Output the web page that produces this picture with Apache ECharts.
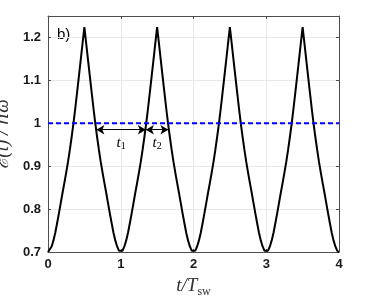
<!DOCTYPE html>
<html><head><meta charset="utf-8">
<script src="https://cdn.jsdelivr.net/npm/echarts@6/dist/echarts.min.js"></script>
<style>html,body{margin:0;padding:0;background:#fff}#c{width:374px;height:300px}</style>
</head><body><div id="c"></div>
<script>
// Sampling grid t/T_sw from 0 to 4 in steps of 0.025
const tStep = 0.025;
// Energy E(t)/hbar*omega (161 samples)
const energy = [
 0.700,0.703,0.713,0.727,0.745,0.767,0.790,0.814,0.838,0.861,0.885,0.910,0.938,0.968,1.000,1.035,1.072,1.110,1.148,1.186,
 1.224,1.186,1.148,1.110,1.072,1.035,1.000,0.968,0.938,0.910,0.885,0.861,0.838,0.814,0.790,0.767,0.745,0.727,0.713,0.703,
 0.700,0.703,0.713,0.727,0.745,0.767,0.790,0.814,0.838,0.861,0.885,0.910,0.938,0.968,1.000,1.035,1.072,1.110,1.148,1.186,
 1.224,1.186,1.148,1.110,1.072,1.035,1.000,0.968,0.938,0.910,0.885,0.861,0.838,0.814,0.790,0.767,0.745,0.727,0.713,0.703,
 0.700,0.703,0.713,0.727,0.745,0.767,0.790,0.814,0.838,0.861,0.885,0.910,0.938,0.968,1.000,1.035,1.072,1.110,1.148,1.186,
 1.224,1.186,1.148,1.110,1.072,1.035,1.000,0.968,0.938,0.910,0.885,0.861,0.838,0.814,0.790,0.767,0.745,0.727,0.713,0.703,
 0.700,0.703,0.713,0.727,0.745,0.767,0.790,0.814,0.838,0.861,0.885,0.910,0.938,0.968,1.000,1.035,1.072,1.110,1.148,1.186,
 1.224,1.186,1.148,1.110,1.072,1.035,1.000,0.968,0.938,0.910,0.885,0.861,0.838,0.814,0.790,0.767,0.745,0.727,0.713,0.703,
 0.700
];
const referenceLevel = 1;
const xTicks = [0, 1, 2, 3, 4];
const yTicks = [0.7, 0.8, 0.9, 1, 1.1, 1.2];
// arrow intervals t1, t2 (in t/T_sw) at energy level
const arrowLevel = 0.985;
const t1Range = [0.665, 1.345];
const t2Range = [1.345, 1.655];

const curve = energy.map((v, i) => [i * tStep, v]);
const serif = '"Liberation Serif","DejaVu Serif",serif';
const sans = '"Liberation Sans",Arial,sans-serif';

function arrowLine(range, sub) {
  return [{coord: [range[0], arrowLevel], label: {show: true, position: 'insideMiddleBottom', distance: 4,
    formatter: '{t|t}{s|' + sub + '}',
    rich: {t: {fontFamily: serif, fontStyle: 'italic', fontSize: 15, color: '#000'},
           s: {fontFamily: serif, fontSize: 10, color: '#000', verticalAlign: 'bottom', padding: [8, 0, 0, 0]}}}},
    {coord: [range[1], arrowLevel]}];
}

const chart = echarts.init(document.getElementById('c'), null, {renderer: 'canvas'});
const axisLineStyle = {color: '#4d4d4d', width: 1};
chart.setOption({
  animation: false,
  grid: {left: 48, right: 35, top: 16, bottom: 48, containLabel: false, outerBoundsMode: 'none'},
  xAxis: [{
    type: 'value', min: xTicks[0], max: xTicks[xTicks.length - 1], interval: 1,
    axisLine: {show: true, onZero: false, lineStyle: axisLineStyle},
    axisTick: {show: true, inside: true, length: 3, lineStyle: axisLineStyle},
    axisLabel: {color: '#1a1a1a', fontFamily: sans, fontWeight: 'bold', fontSize: 13, margin: 6},
    splitLine: {show: true, lineStyle: {color: '#e8e8e8', width: 1}},
    name: '{i|t/T}{s|sw}', nameLocation: 'middle', nameGap: 22,
    nameTextStyle: {rich: {i: {fontFamily: serif, fontStyle: 'italic', fontSize: 19, color: '#333'},
      s: {fontFamily: serif, fontSize: 12, color: '#333', verticalAlign: 'bottom', padding: [12, 0, 0, 0]}}}
  }, {
    type: 'value', position: 'top', min: 0, max: 4, interval: 1,
    axisLine: {show: true, onZero: false, lineStyle: axisLineStyle},
    axisTick: {show: true, inside: true, length: 3, lineStyle: axisLineStyle},
    axisLabel: {show: false}, splitLine: {show: false}
  }],
  yAxis: [{
    type: 'value', min: 0.7, max: 1.25, interval: 0.1,
    axisLine: {show: true, onZero: false, lineStyle: axisLineStyle},
    axisTick: {show: true, inside: true, length: 3, lineStyle: axisLineStyle},
    axisLabel: {color: '#1a1a1a', fontFamily: sans, fontWeight: 'bold', fontSize: 13, margin: 7, showMaxLabel: false,
      formatter: v => (v > 1.21 ? '' : String(parseFloat(v.toFixed(2))))},
    splitLine: {show: true, showMaxLine: false, lineStyle: {color: '#e8e8e8', width: 1}},
    name: 'ℰ(t) / ℏω', nameLocation: 'middle', nameGap: 26, nameRotate: 90,
    nameTextStyle: {fontFamily: serif, fontStyle: 'italic', fontSize: 19, color: '#333'}
  }, {
    type: 'value', position: 'right', min: 0.7, max: 1.25, interval: 0.1,
    axisLine: {show: true, onZero: false, lineStyle: axisLineStyle},
    axisTick: {show: true, inside: true, length: 3, lineStyle: axisLineStyle},
    axisLabel: {show: false}, splitLine: {show: false}
  }],
  series: [{
    type: 'line', data: curve, showSymbol: false, smooth: false,
    lineStyle: {color: '#000', width: 2}, z: 3
  }, {
    type: 'line', data: [[xTicks[0], referenceLevel], [xTicks[xTicks.length - 1], referenceLevel]],
    showSymbol: false, lineStyle: {color: '#0000ff', width: 2, type: [5, 3]}, z: 4,
    markLine: {
      silent: true, symbol: ['arrow', 'arrow'], symbolSize: [7, 8],
      lineStyle: {color: '#000', width: 1, type: 'solid'},
      data: [arrowLine(t1Range, '1'), arrowLine(t2Range, '2')]
    }
  }],
  graphic: [{type: 'text', left: 57, top: 27, style: {text: 'b)', font: '15px ' + sans, fill: '#000'}}]
});
</script></body></html>
